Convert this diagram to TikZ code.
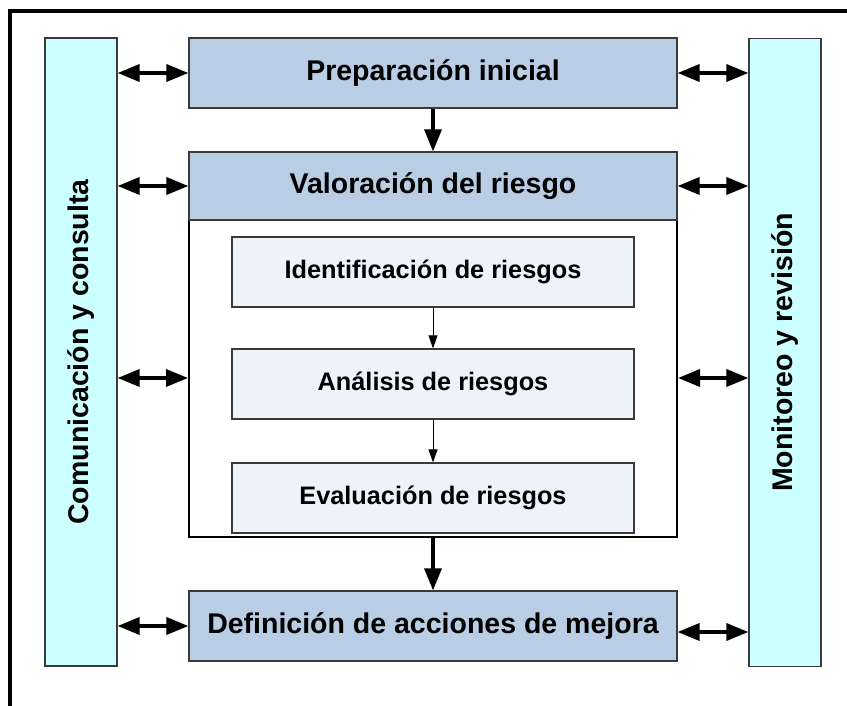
\documentclass[tikz,border=0pt]{standalone}
\usepackage{fontspec}
\usepackage{graphicx}
\setmainfont{Liberation Sans}
\usetikzlibrary{arrows.meta}
\definecolor{sidecol}{HTML}{CCFFFF}
\definecolor{bluebox}{HTML}{B9CDE5}
\definecolor{innerbox}{HTML}{EEF2FA}
\definecolor{edgecol}{HTML}{3A3A3A}
\begin{document}
\begin{tikzpicture}[x=1pt,y=-1pt,
  bigfont/.style={font=\bfseries\fontsize{28.5}{32}\selectfont},
  smallfont/.style={font=\bfseries\fontsize{25.3}{28}\selectfont},
  sidebox/.style={draw=edgecol, line width=1.2pt, fill=sidecol, minimum width=72pt, minimum height=628pt, inner sep=0pt, bigfont},
  mainbox/.style={draw=edgecol, line width=1.2pt, fill=bluebox, minimum width=488pt, minimum height=70pt, inner sep=0pt, bigfont},
  innerstep/.style={draw=edgecol, line width=1.2pt, fill=innerbox, minimum width=402pt, minimum height=70pt, inner sep=0pt, smallfont},
  dbl/.style={line width=3.5pt, {Triangle[length=22pt,width=17pt]}-{Triangle[length=22pt,width=17pt]}},
  thick arrow/.style={line width=3.5pt, -{Triangle[length=22pt,width=17pt]}},
  thin arrow/.style={line width=1pt, -{Triangle[length=13pt,width=9pt]}}
]
\useasboundingbox (0,0) rectangle (847,706);
% outer frame (top and left only)
\draw[line width=4pt] (10,706) -- (10,11.5) -- (847,11.5);

% side columns
\node[sidebox] (left) at (81,352) {\rotatebox{90}{Comunicación y consulta}};
\node[sidebox] (right) at (785,352.5) {\rotatebox{90}{Monitoreo y revisión}};

% container
\node[draw=black, line width=2pt, fill=white, minimum width=488pt, minimum height=317pt, inner sep=0pt] (cont) at (433,378.5) {};

% main boxes
\node[mainbox] (prep) at (433,73) {Preparación inicial};
\node[mainbox, minimum height=68pt] (val) at (433,186) {Valoración del riesgo};
\node[mainbox] (def) at (433,626) {Definición de acciones de mejora};

% inner steps
\node[innerstep] (ident) at (433,272) {Identificación de riesgos};
\node[innerstep] (anal) at (433,384) {Análisis de riesgos};
\node[innerstep] (eval) at (433,498) {Evaluación de riesgos};

% vertical flow
\draw[thick arrow] (prep.south) -- (val.north);
\draw[thin arrow] (ident.south) -- (anal.north);
\draw[thin arrow] (anal.south) -- (eval.north);
\draw[thick arrow] (cont.south) -- (def.north);

% left double arrows
\draw[dbl] (left.east |- prep.west) -- (prep.west);
\draw[dbl] (left.east |- val.west) -- (val.west);
\draw[dbl] (left.east |- 0,378) -- (cont.west |- 0,378);
\draw[dbl] (left.east |- def.west) -- (def.west);

% right double arrows
\draw[dbl] (prep.east) -- (right.west |- prep.east);
\draw[dbl] (val.east) -- (right.west |- val.east);
\draw[dbl] (cont.east |- 0,378) -- (right.west |- 0,378);
\coordinate (defr) at ([yshift=-6pt]def.east);
\draw[dbl] (defr) -- (right.west |- defr);
\end{tikzpicture}
\end{document}
